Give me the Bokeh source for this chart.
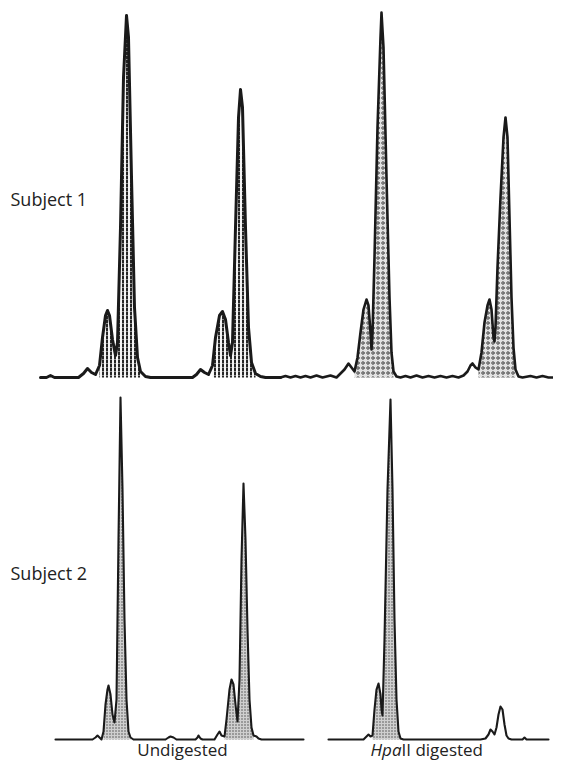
from bokeh.plotting import figure
from bokeh.models import Range1d
from bokeh.core.properties import value
from bokeh.embed import file_html
from bokeh.resources import INLINE

# ---------------- data (scan position, signal) ----------------
# Subject 1, undigested
s1_undig_x = [40, 46, 50, 54, 78, 83, 87, 91, 95, 99, 102, 105, 107, 109, 112, 115, 117, 120, 123, 126,
              128, 131, 134, 137, 140, 145, 150, 192, 196, 200, 204, 208, 212, 215, 219, 222, 225, 228,
              230, 232, 235, 238, 240, 242, 245, 248, 251, 255, 260, 265, 280]
s1_undig_y = [0, 0, 2, 0, 0, 4, 9, 5, 3, 12, 40, 62, 67, 62, 38, 22, 35, 150, 300, 362,
              340, 200, 70, 20, 6, 1, 0, 0, 3, 8, 5, 3, 12, 40, 62, 66, 58, 35,
              22, 35, 150, 260, 288, 270, 150, 50, 15, 4, 1, 0, 0]
# Subject 1, HpaII digested
s1_dig_x = [280, 285, 290, 295, 300, 305, 310, 316, 322, 330, 336, 340, 344, 348, 351, 354, 357, 360,
            363, 366, 368, 370, 371, 372, 374, 377, 380, 381, 383, 386, 389, 391, 393, 396, 400, 405,
            410, 416, 422, 428, 434, 440, 446, 452, 458, 463, 467, 470, 472, 475, 478, 481, 484, 487,
            489, 491, 493, 494, 495, 497, 500, 503, 505, 507, 509, 511, 513, 515, 518, 522, 530, 536,
            542, 548, 555]
s1_dig_y = [0, 1.5, 0, 1.5, 0, 1.5, 0, 2, 0, 2, 0, 4, 8, 14, 10, 6, 20, 45,
            68, 78, 72, 45, 28, 45, 120, 250, 340, 365, 330, 200, 80, 25, 6, 1, 0, 1.5,
            0, 2, 0, 1.5, 0, 1.5, 0, 1.5, 0, 2, 6, 12, 14, 10, 8, 25, 55, 72,
            78, 68, 40, 36, 50, 110, 180, 240, 260, 240, 160, 80, 30, 8, 1, 0, 1.5, 0,
            1.5, 0, 0]
# Subject 2, undigested
s2_undig_x = [55, 92, 95, 97, 99, 101, 103, 105, 107, 108, 110, 112, 114, 116, 118, 120, 122, 124, 126,
              128, 130, 133, 165, 168, 170, 173, 176, 195, 197, 198, 200, 202, 214, 217, 219, 221, 224,
              226, 229, 231, 233, 235, 237, 239, 241, 243, 245, 247, 249, 251, 253, 256, 258, 261, 303]
s2_undig_y = [0, 0, 2, 4, 2, 0, 8, 35, 50, 54, 45, 25, 17, 40, 200, 342, 250, 120, 40,
              8, 2, 0, 0, 2, 3, 2, 0, 0, 2, 4, 1, 0, 0, 5, 8, 4, 3,
              20, 50, 60, 55, 35, 18, 60, 180, 256, 200, 110, 40, 12, 4, 3, 1, 0, 0]
# Subject 2, HpaII digested
s2_dig_x = [328, 363, 366, 368, 370, 372, 374, 376, 378, 380, 381, 382, 384, 387, 390, 392, 394, 396,
            398, 400, 403, 480, 485, 488, 490, 492, 494, 496, 498, 500, 502, 504, 506, 508, 511, 522,
            524, 526, 548]
s2_dig_y = [0, 0, 3, 5, 3, 4, 30, 50, 56, 45, 30, 24, 100, 250, 340, 250, 120, 40,
            8, 1, 0, 0, 1, 5, 10, 8, 5, 12, 25, 33, 30, 15, 4, 1, 0, 0,
            2, 0, 0]

# shaded (peak) spans for each trace
s1_undig_fill = [(99, 140), (212, 255)]
s1_dig_fill = [(354, 393), (478, 515)]
s2_undig_fill = [(103, 130), (224, 253)]
s2_dig_fill = [(372, 400)]

row_labels = ["Subject 1", "Subject 2"]
col_labels = ["Undigested", "digested"]
enzyme = "Hpa"
enzyme_suffix = "II "

# ---------------- figure ----------------
W, H = 553, 762
p = figure(width=W, height=H, output_backend="svg", toolbar_location=None,
           x_axis_location=None, y_axis_location=None,
           x_range=Range1d(0, W), y_range=Range1d(-(H - 377), 377),
           min_border=0, outline_line_color=None)
p.extra_y_ranges = {"bottom": Range1d(-(H - 739), 739)}
p.xgrid.visible = False
p.ygrid.visible = False
p.background_fill_color = "white"
p.border_fill_color = "white"

FONT = value("Open Sans")
LINE = "#1a1a1a"


def spans(xs, ys, ranges):
    out = []
    for a, b in ranges:
        sx = [x for x in xs if a <= x <= b]
        sy = [y for x, y in zip(xs, ys) if a <= x <= b]
        out.append((sx, sy))
    return out


def draw(xs, ys, fills, rng, lw, fill_kw):
    kw = {} if rng is None else {"y_range_name": rng}
    for sx, sy in spans(xs, ys, fills):
        p.varea(x=sx, y1=[0] * len(sx), y2=sy, **fill_kw, **kw)
    p.line(xs, ys, line_color=LINE, line_width=lw, line_join="round", line_cap="round", **kw)


draw(s1_undig_x, s1_undig_y, s1_undig_fill, None, 3.0,
     dict(fill_color="#f4f4f4", hatch_pattern="vertical_dash", hatch_color="#262626",
          hatch_scale=4, hatch_weight=2.0))
draw(s1_dig_x, s1_dig_y, s1_dig_fill, None, 2.6,
     dict(fill_color="#e2e2e2", hatch_pattern="ring", hatch_color="#444444",
          hatch_scale=5, hatch_weight=1.0))
draw(s2_undig_x, s2_undig_y, s2_undig_fill, "bottom", 2.1,
     dict(fill_color="#cfcfcf", hatch_pattern="dot", hatch_color="#4a4a4a",
          hatch_scale=3, hatch_weight=1))
draw(s2_dig_x, s2_dig_y, s2_dig_fill, "bottom", 2.1,
     dict(fill_color="#cfcfcf", hatch_pattern="dot", hatch_color="#4a4a4a",
          hatch_scale=3, hatch_weight=1))

TS = "17px"
TC = "#222222"
LY = -10  # column-label position under the baseline
p.text(x=[10], y=[179], text=[row_labels[0]], text_font=FONT, text_font_size="18px",
       text_align="left", text_baseline="middle", text_color=TC)
p.text(x=[10], y=[167], text=[row_labels[1]], text_font=FONT, text_font_size="18px",
       text_align="left", text_baseline="middle", text_color=TC, y_range_name="bottom")
p.text(x=[182], y=[LY], text=[col_labels[0]], text_font=FONT, text_font_size=TS,
       text_align="center", text_baseline="middle", text_color=TC, y_range_name="bottom")
p.text(x=[401], y=[LY], text=[enzyme], text_font=FONT, text_font_size=TS,
       text_font_style="italic", text_align="right", text_baseline="middle",
       text_color=TC, y_range_name="bottom")
p.text(x=[401], y=[LY], text=[enzyme_suffix + col_labels[1]], text_font=FONT, text_font_size=TS,
       text_align="left", text_baseline="middle", text_color=TC, y_range_name="bottom")

open("out.html", "w").write(file_html(p, INLINE))
